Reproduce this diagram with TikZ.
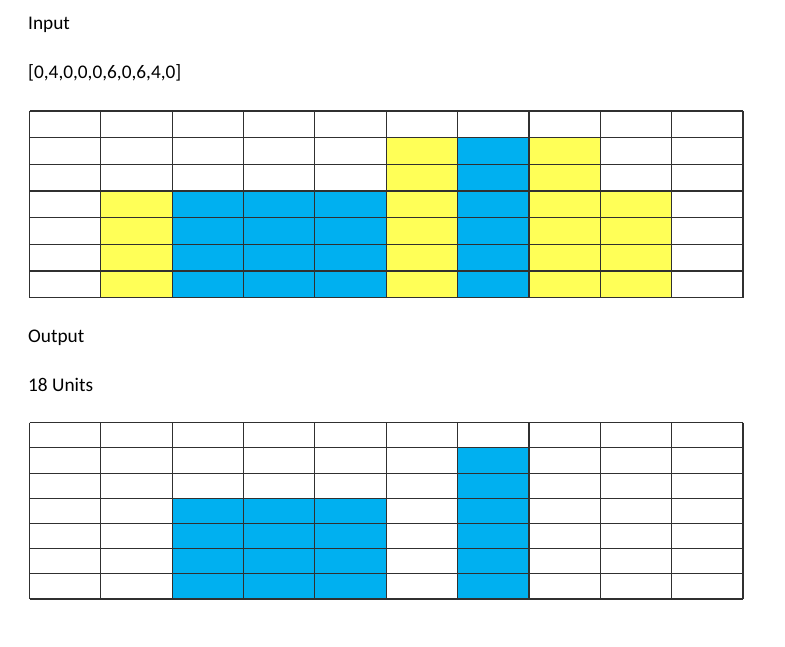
\documentclass[tikz,border=0pt]{standalone}
\usepackage{fontspec}
\setmainfont{Carlito}
\definecolor{cellyellow}{HTML}{FFFF57}
\definecolor{cellblue}{HTML}{00B0F0}
\definecolor{gridline}{HTML}{303030}
\begin{document}
\begin{tikzpicture}[x=1pt,y=-1pt,
  label text/.style={anchor=base west,inner sep=0pt,font=\fontsize{19.3}{22}\selectfont},
  gridstyle/.style={draw=gridline,line width=1.1pt}]
\useasboundingbox[fill=white] (0,0) rectangle (785,646);
\node[label text] (lin) at (28,29.3) {Input};
\node[label text] (lseq) at (28,78.7) {[0,4,0,0,0,6,0,6,4,0]};
\node[label text] (lout) at (28,342.3) {Output};
\node[label text] (lunits) at (28,391.7) {18 Units};
% top grid
\def\tx{29.5}\def\tw{71.35}\def\ty{111}\def\th{26.67}
\foreach \c/\hgt in {1/4,5/6,7/6,8/4}{
  \fill[cellyellow] (\tx+\c*\tw,\ty+7*\th-\hgt*\th) rectangle (\tx+\c*\tw+\tw,\ty+7*\th);
}
\foreach \c/\hgt in {2/4,3/4,4/4,6/6}{
  \fill[cellblue] (\tx+\c*\tw,\ty+7*\th-\hgt*\th) rectangle (\tx+\c*\tw+\tw,\ty+7*\th);
}
\foreach \i in {0,...,10}{
  \draw[gridstyle] (\tx+\i*\tw,\ty) -- (\tx+\i*\tw,\ty+7*\th);
}
\foreach \j in {0,...,7}{
  \draw[gridstyle] (\tx,\ty+\j*\th) -- (\tx+10*\tw,\ty+\j*\th);
}
% bottom grid
\def\by{422.7}\def\bh{25.19}
\foreach \c/\hgt in {2/4,3/4,4/4,6/6}{
  \fill[cellblue] (\tx+\c*\tw,\by+7*\bh-\hgt*\bh) rectangle (\tx+\c*\tw+\tw,\by+7*\bh);
}
\foreach \i in {0,...,10}{
  \draw[gridstyle] (\tx+\i*\tw,\by) -- (\tx+\i*\tw,\by+7*\bh);
}
\foreach \j in {0,...,7}{
  \draw[gridstyle] (\tx,\by+\j*\bh) -- (\tx+10*\tw,\by+\j*\bh);
}
\end{tikzpicture}
\end{document}
